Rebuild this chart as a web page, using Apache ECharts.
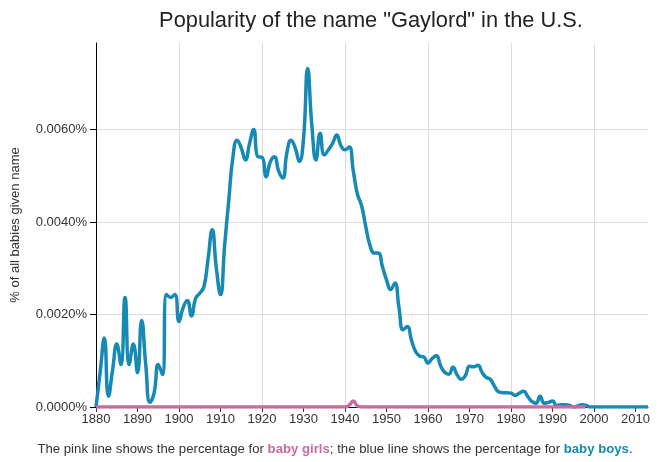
<!DOCTYPE html>
<html>
<head>
<meta charset="utf-8">
<script src="https://cdn.jsdelivr.net/npm/echarts@6/dist/echarts.min.js"></script>
<style>
  html, body { margin: 0; padding: 0; background: #fff; }
  #chart { width: 660px; height: 462px; }
</style>
</head>
<body>
<div id="chart"></div>
<script>
    // years shown on the x axis
    var years = [];
    for (var y = 1880; y <= 2013; y++) years.push(String(y));

    // % of baby boys named Gaylord, 1880 - 2013
    var boys = [
        0.0000, 0.00075, 0.00149, 0.00023, 0.0008, 0.00136, 0.00092, 0.00237, 0.00092, 0.00136,
        0.00074, 0.00187, 0.0009, 0.0001, 0.0003, 0.00092, 0.0007, 0.00243, 0.00237, 0.00243,
        0.00185, 0.00215, 0.0023, 0.00197, 0.00235, 0.00246, 0.0026, 0.0032, 0.00383, 0.0030,
        0.00243, 0.0035, 0.00448, 0.00541, 0.00577, 0.0056, 0.00534, 0.0057, 0.0060, 0.00541,
        0.0054, 0.00498, 0.0053, 0.00541, 0.0051, 0.00495, 0.0055, 0.00577, 0.0056, 0.00531,
        0.0058, 0.00732, 0.0061, 0.00534, 0.00592, 0.00545, 0.00556, 0.0057, 0.00588, 0.00565,
        0.00556, 0.00562, 0.0051, 0.0046, 0.00435, 0.0039, 0.0035, 0.00333, 0.00333, 0.00304,
        0.00275, 0.00254, 0.00268, 0.00215, 0.00167, 0.00174, 0.00145, 0.0012, 0.0011, 0.00108,
        0.00095, 0.00105, 0.00111, 0.0009, 0.00075, 0.00071, 0.00086, 0.0007, 0.0006, 0.00068,
        0.00088, 0.00087, 0.0009, 0.00075, 0.00064, 0.0006, 0.00045, 0.00033, 0.00031, 0.00031,
        0.0003, 0.00025, 0.0003, 0.00034, 0.00023, 0.00012, 0.00008, 0.00023, 0.00008, 0.0001,
        0.00013, 0.00003, 0.00005, 0.00005, 0.00004, 0.0000, 0.00002, 0.00005, 0.00004, 0.0000,
        0, 0, 0, 0, 0, 0, 0, 0, 0, 0, 0, 0, 0, 0
    ];

    // % of baby girls named Gaylord, 1880 - 1998
    var girls = [];
    for (var i = 0; i <= 118; i++) girls.push(0);
    girls[61] = 0.00004;
    girls[62] = 0.00013;
    girls[63] = 0.00002;

    var yTicks = [0, 0.002, 0.004, 0.006];

    var font = 'Arial, "Liberation Sans", sans-serif';
    var blue = '#1689b4';
    var pink = '#c96ba0';

    var chart = echarts.init(document.getElementById('chart'), null, {renderer: 'canvas'});

    chart.setOption({
        animation: false,
        title: {
            text: 'Popularity of the name "Gaylord" in the U.S.',
            left: 366,
            textAlign: 'center',
            top: 5,
            textStyle: {fontFamily: font, fontSize: 21.8, fontWeight: 'normal', color: '#222'}
        },
        grid: {left: 96, right: 12, top: 43, bottom: 55, containLabel: false, outerBoundsMode: 'none'},
        xAxis: {
            type: 'category',
            data: years,
            boundaryGap: false,
            axisLine: {show: true, lineStyle: {color: '#000', width: 1}},
            axisTick: {
                show: true, length: 5,
                interval: function (idx, v) { return v % 10 === 0; },
                lineStyle: {color: '#333'}
            },
            axisLabel: {
                interval: function (idx, v) { return v % 10 === 0; },
                fontFamily: font, fontSize: 13, color: '#333', margin: 6
            },
            splitLine: {
                show: true,
                interval: function (idx, v) { return v % 20 === 0 && v !== 1880; },
                lineStyle: {color: '#ddd', width: 1}
            }
        },
        yAxis: {
            type: 'value',
            min: 0,
            max: 0.00787,
            interval: 0.002,
            name: '% of all babies given name',
            nameLocation: 'middle',
            nameRotate: 90,
            nameGap: 74,
            nameTextStyle: {fontFamily: font, fontSize: 13, color: '#333'},
            axisLine: {show: true, lineStyle: {color: '#000', width: 1}},
            axisTick: {show: true, length: 6, lineStyle: {color: '#000'}},
            axisLabel: {
                showMaxLabel: false,
                fontFamily: font, fontSize: 13, color: '#333', margin: 9,
                formatter: function (v) {
                    return yTicks.indexOf(v) >= 0 ? v.toFixed(4) + '%' : '';
                }
            },
            splitLine: {
                show: true,
                lineStyle: {color: ['#ddd', '#ddd', '#ddd', '#ddd', 'rgba(0,0,0,0)'], width: 1}
            }
        },
        series: [
            {
                name: 'boys',
                type: 'line',
                data: boys,
                smooth: 0.5,
                showSymbol: false,
                lineStyle: {color: blue, width: 3.5},
                z: 2
            },
            {
                name: 'girls',
                type: 'line',
                data: girls,
                smooth: 0.5,
                showSymbol: false,
                lineStyle: {color: pink, width: 3.5},
                z: 3
            }
        ],
        graphic: [{
            type: 'text',
            x: 335,
            y: 449,
            style: {
                text: 'The pink line shows the percentage for {g|baby girls}; the blue line shows the percentage for {b|baby boys}.',
                fontFamily: font,
                fontSize: 13.2,
                fill: '#333',
                align: 'center',
                verticalAlign: 'middle',
                rich: {
                    g: {fontFamily: font, fontSize: 13.2, fontWeight: 'bold', fill: pink},
                    b: {fontFamily: font, fontSize: 13.2, fontWeight: 'bold', fill: blue}
                }
            }
        }]
    });
</script>
</body>
</html>
